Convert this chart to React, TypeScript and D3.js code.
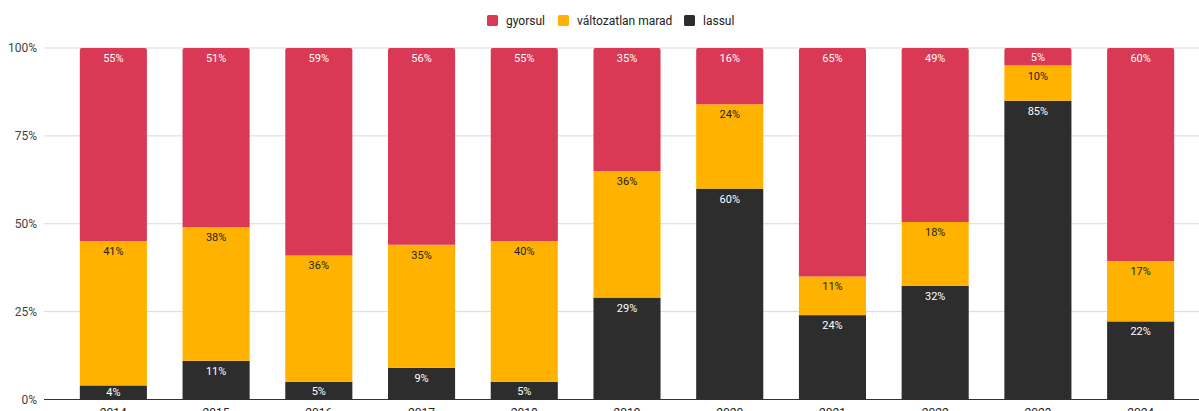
import React, {useEffect, useRef} from "react";
import * as d3 from "d3";

const years = ["2014", "2015", "2016", "2017", "2018", "2019", "2020", "2021", "2022", "2023", "2024"];
const gyorsul = [55, 51, 59, 56, 55, 35, 16, 65, 49, 5, 60];
const valtozatlan = [41, 38, 36, 35, 40, 36, 24, 11, 18, 10, 17];
const lassul = [4, 11, 5, 9, 5, 29, 60, 24, 32, 85, 22];
const seriesNames = ["gyorsul", "változatlan marad", "lassul"];
const yTicks = [0, 0.25, 0.5, 0.75, 1];

const colors: {[k: string]: string} = {
    "gyorsul": "#d93954",
    "változatlan marad": "#ffb300",
    "lassul": "#2d2d2d",
};
const labelColors: {[k: string]: string} = {
    "gyorsul": "#ffffff",
    "változatlan marad": "#222222",
    "lassul": "#ffffff",
};

const W = 1199;
const H = 411;
const FONT = "Roboto, Arial, sans-serif";

function App() {
    const ref = useRef<SVGSVGElement>(null);

    useEffect(() => {
        const svg: any = d3.select(ref.current);
        svg.selectAll("*").remove();

        const rows = years.map((y, i) => ({
            year: y,
            "lassul": lassul[i],
            "változatlan marad": valtozatlan[i],
            "gyorsul": gyorsul[i],
        }));

        // stack from bottom: lassul, változatlan, gyorsul
        const stack = d3.stack<any>()
            .keys(["lassul", "változatlan marad", "gyorsul"])
            .offset(d3.stackOffsetExpand);
        const layers = stack(rows);

        const x = d3.scaleBand()
            .domain(years)
            .range([62, 1192])
            .paddingInner(0.347)
            .paddingOuter(0.1735);
        const y = d3.scaleLinear().domain([0, 1]).range([399.5, 48]);

        // grid
        const grid = svg.append("g");
        grid.selectAll("line")
            .data(yTicks)
            .enter()
            .append("line")
            .attr("x1", 44)
            .attr("x2", W + 10)
            .attr("y1", (d: number) => y(d))
            .attr("y2", (d: number) => y(d))
            .attr("stroke", (d: number) => d === 0 ? "#333333" : "#d9d9d9")
            .attr("stroke-width", 1);

        const yAxis = d3.axisLeft(y)
            .tickValues(yTicks)
            .tickFormat((d: any) => d3.format(".0%")(d))
            .tickSize(0)
            .tickPadding(7);
        const ya = svg.append("g").attr("transform", "translate(44,0)").call(yAxis);
        ya.select(".domain").remove();
        ya.selectAll("text")
            .attr("font-family", FONT)
            .attr("font-size", 12)
            .attr("fill", "#444444");

        // bars
        const r = 2;
        layers.forEach((layer: any) => {
            const key = layer.key;
            const g = svg.append("g");
            layer.forEach((seg: any, i: number) => {
                const x0 = x(years[i])!;
                const bw = x.bandwidth();
                const top = y(seg[1]);
                const bot = y(seg[0]);
                const h = bot - top;
                if (key === "gyorsul") {
                    const p = d3.path();
                    p.moveTo(x0, bot);
                    p.lineTo(x0, top + r);
                    p.quadraticCurveTo(x0, top, x0 + r, top);
                    p.lineTo(x0 + bw - r, top);
                    p.quadraticCurveTo(x0 + bw, top, x0 + bw, top + r);
                    p.lineTo(x0 + bw, bot);
                    p.closePath();
                    g.append("path").attr("d", p.toString()).attr("fill", colors[key]);
                } else {
                    g.append("rect")
                        .attr("x", x0)
                        .attr("y", top)
                        .attr("width", bw)
                        .attr("height", h)
                        .attr("fill", colors[key]);
                }
                const vals = key === "gyorsul" ? gyorsul : key === "lassul" ? lassul : valtozatlan;
                const ly = Math.min(top + 10, (top + bot) / 2);
                g.append("text")
                    .attr("x", x0 + bw / 2)
                    .attr("y", ly)
                    .attr("dy", "0.36em")
                    .attr("text-anchor", "middle")
                    .attr("font-family", FONT)
                    .attr("font-size", 11)
                    .attr("fill", labelColors[key])
                    .text(vals[i] + "%");
            });
        });

        // x axis labels (mostly cut off)
        svg.append("g")
            .selectAll("text")
            .data(years)
            .enter()
            .append("text")
            .attr("x", (d: string) => x(d)! + x.bandwidth() / 2)
            .attr("y", 417)
            .attr("text-anchor", "middle")
            .attr("font-family", FONT)
            .attr("font-size", 12)
            .attr("fill", "#222222")
            .text((d: string) => d);

        // legend
        const legendItems = [
            {name: seriesNames[0], x: 487},
            {name: seriesNames[1], x: 558},
            {name: seriesNames[2], x: 684},
        ];
        const lg = svg.append("g");
        legendItems.forEach((it) => {
            lg.append("rect")
                .attr("x", it.x)
                .attr("y", 15)
                .attr("width", 11)
                .attr("height", 11)
                .attr("rx", 1.5)
                .attr("fill", colors[it.name]);
            lg.append("text")
                .attr("x", it.x + 19)
                .attr("y", 21)
                .attr("dy", "0.35em")
                .attr("font-family", FONT)
                .attr("font-size", 12)
                .attr("fill", "#222222")
                .text(it.name);
        });
    }, []);

    return (
        <div style={{position: "absolute", left: 0, top: 0, width: W, height: H, overflow: "hidden", background: "#fff"}}>
            <svg ref={ref} width={W} height={H} style={{display: "block"}}></svg>
        </div>
    );
}

export default App;
